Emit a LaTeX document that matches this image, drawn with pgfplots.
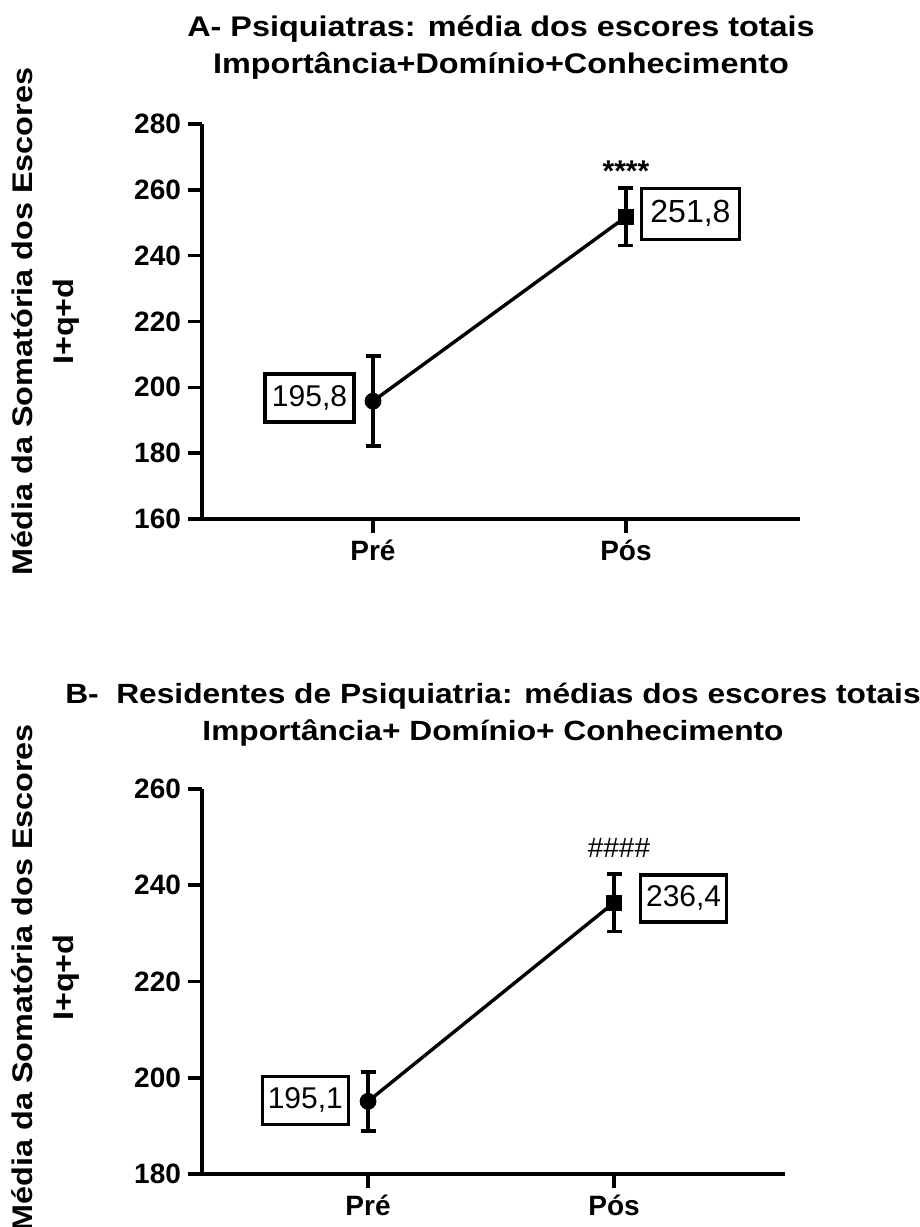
\documentclass[border=0pt]{standalone}
\usepackage{fontspec}
\setmainfont{Liberation Sans}
\newfontfamily\widefont[FakeStretch=1.14]{Liberation Sans}
\usepackage{pgfplots}
\pgfplotsset{compat=1.18}
\pgfplotsset{
  myaxis/.style={
    scale only axis,
    axis x line*=bottom, axis y line*=left,
    axis line style={line width=2pt, -},
    tick align=outside,
    major tick length=7pt,
    tick style={line width=1.8pt, black},
    xtick={0,1}, xticklabels={Pré,Pós},
    xmin=-0.676, xmax=1.688,
    ticklabel style={font=\fontsize{14}{17}\selectfont\bfseries},
    /pgf/number format/assume math mode=true,
    ylabel style={font=\widefont\bfseries\fontsize{14.2}{20.5}\selectfont, align=center, anchor=center},
    clip=false,
  },
  ebar/.style={black, line width=1.7pt, mark=none,
    error bars/.cd, y dir=both, y explicit,
    error mark=|,
    error bar style={line width=1.8pt, black, solid},
    error mark options={line width=1.8pt, mark size=3.75pt, black, solid}},
}
\tikzset{valbox/.style={draw, line width=1.8pt, inner sep=0pt, font=\fontsize{15}{18}\selectfont}}
\begin{document}
\begin{tikzpicture}
\useasboundingbox (0,0) rectangle (460pt,-613.5pt);

% Panel A
\begin{axis}[myaxis,
  at={(101pt,-259.5pt)}, anchor=south west,
  width=299pt, height=197.5pt,
  ymin=160, ymax=280, ytick={160,180,...,280},
  ylabel={Média da Somatória dos Escores\\I+q+d},
  ylabel style={at={(axis description cs:-0.261,0.5)}},
]
\addplot[ebar] coordinates {(0,195.8) +- (0,13.7) (1,251.8) +- (0,8.7)};
\addplot[only marks, mark=*, mark size=4pt, black] coordinates {(0,195.8)};
\addplot[only marks, mark=square*, mark size=3.75pt, black] coordinates {(1,251.8)};
\node[valbox, minimum width=44.5pt, minimum height=24pt] at (axis cs:-0.251,196.8) {195,8};
\node[valbox, minimum width=49pt, minimum height=25.5pt, font=\fontsize{16}{19}\selectfont] at (axis cs:1.255,252.7) {251,8};
\node[anchor=base, inner sep=0pt, font=\fontsize{15}{18}\selectfont\bfseries] at (axis cs:1.0,262.6) {****};
\end{axis}

% Panel B
\begin{axis}[myaxis,
  at={(101pt,-587pt)}, anchor=south west,
  width=291.5pt, height=192.5pt,
  xmin=-0.675, xmax=1.695,
  ymin=180, ymax=260, ytick={180,200,...,260},
  ylabel={Média da Somatória dos Escores\\I+q+d},
  ylabel style={at={(axis description cs:-0.2676,0.51)}},
]
\addplot[ebar] coordinates {(0,195.1) +- (0,6.1) (1,236.4) +- (0,6.0)};
\addplot[only marks, mark=*, mark size=4pt, black] coordinates {(0,195.1)};
\addplot[only marks, mark=square*, mark size=3.75pt, black] coordinates {(1,236.4)};
\node[valbox, minimum width=43pt, minimum height=24pt] at (axis cs:-0.255,195.3) {195,1};
\node[valbox, minimum width=43pt, minimum height=23.5pt] at (axis cs:1.283,237.3) {236,4};
\node[anchor=base, inner sep=0pt, font=\fontsize{14}{17}\selectfont] at (axis cs:1.02,245.7) {\#\#\#\#};
\end{axis}

% Titles
\node[anchor=base, inner sep=0pt, font=\widefont\bfseries\fontsize{14.2}{17}\selectfont] at (250.5pt,-18pt) {A- Psiquiatras: média dos escores totais};
\node[anchor=base, inner sep=0pt, font=\widefont\bfseries\fontsize{14.2}{17}\selectfont] at (250.5pt,-36.5pt) {Importância+Domínio+Conhecimento};
\node[anchor=base, inner sep=0pt, font=\widefont\bfseries\fontsize{13.9}{17}\selectfont] at (246.5pt,-351.6pt) {B-~~Residentes de Psiquiatria: médias dos escores totais};
\node[anchor=base, inner sep=0pt, font=\widefont\bfseries\fontsize{13.9}{17}\selectfont] at (246.5pt,-370pt) {Importância+ Domínio+ Conhecimento};
\end{tikzpicture}
\end{document}
